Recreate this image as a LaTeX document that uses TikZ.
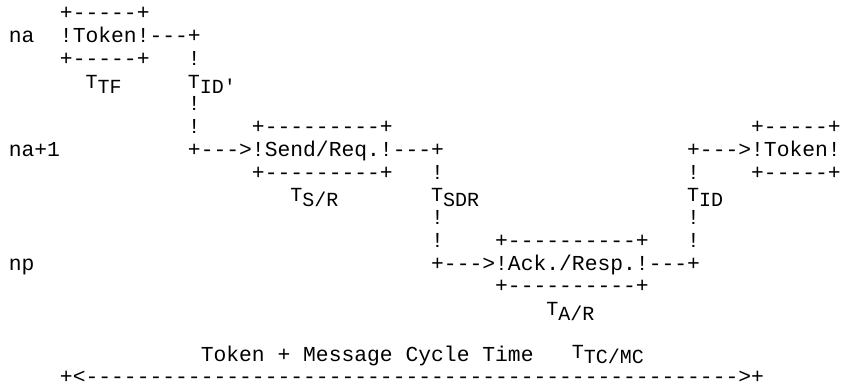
\documentclass[tikz,border=0pt]{standalone}
\usepackage{fontspec}
\setmonofont{Liberation Mono}
\usepackage{tikz}

\newcommand{\tsub}[2]{#1\raisebox{-3.75pt}{#2}}

\begin{document}
\begin{tikzpicture}[x=9.6pt, y=-17.0625pt,
    asc/.style={anchor=base west, inner sep=0pt, font=\ttfamily\fontsize{16pt}{17pt}\selectfont},
    lbl/.style={asc, font=\ttfamily\fontsize{15pt}{17pt}\selectfont}]
    \useasboundingbox (-6.375pt,14.81pt) rectangle (624.375pt,-275.44pt);

    % Station na
    \node[asc] (na) at (0,1) {na};
    \node[asc] (tokAt) at (4,0) {+-----+};
    \node[asc] (tokA) at (4,1) {!Token!---+};
    \node[asc] (tokAb) at (4,2) {+-----+};
    \node[lbl] (ttf) at (6,3) {\tsub{T}{TF}};
    \node[lbl] (tidp) at (14,3) {\tsub{T}{ID'}};
    \foreach \r in {2,4,5}
        \node[asc] (idp\r) at (14,\r) {!};

    % Station na+1
    \node[asc] (na1) at (0,6) {na+1};
    \node[asc] (sendt) at (19,5) {+---------+};
    \node[asc] (send) at (14,6) {+--->!Send/Req.!---+};
    \node[asc] (sendb) at (19,7) {+---------+};
    \node[lbl] (tsr) at (22,8) {\tsub{T}{S/R}};
    \node[lbl] (tsdr) at (33,8) {\tsub{T}{SDR}};
    \foreach \r in {7,9,10}
        \node[asc] (sdr\r) at (33,\r) {!};

    % Station np
    \node[asc] (np) at (0,11) {np};
    \node[asc] (ackt) at (38,10) {+----------+};
    \node[asc] (ack) at (33,11) {+--->!Ack./Resp.!---+};
    \node[asc] (ackb) at (38,12) {+----------+};
    \node[lbl] (tar) at (42,13) {\tsub{T}{A/R}};

    % Token passed on
    \foreach \r in {7,9,10}
        \node[asc] (id\r) at (53,\r) {!};
    \node[lbl] (tid) at (53,8) {\tsub{T}{ID}};
    \node[asc] (tokBt) at (58,5) {+-----+};
    \node[asc] (tokB) at (53,6) {+--->!Token!};
    \node[asc] (tokBb) at (58,7) {+-----+};

    % Cycle time
    \node[asc] (cyc) at (15,15) {Token + Message Cycle Time};
    \node[lbl, yshift=2pt] (ttc) at (44,15) {\tsub{T}{TC/MC}};
    \node[asc] (span) at (4,16) {+<--------------------------------------------------->+};
\end{tikzpicture}
\end{document}
